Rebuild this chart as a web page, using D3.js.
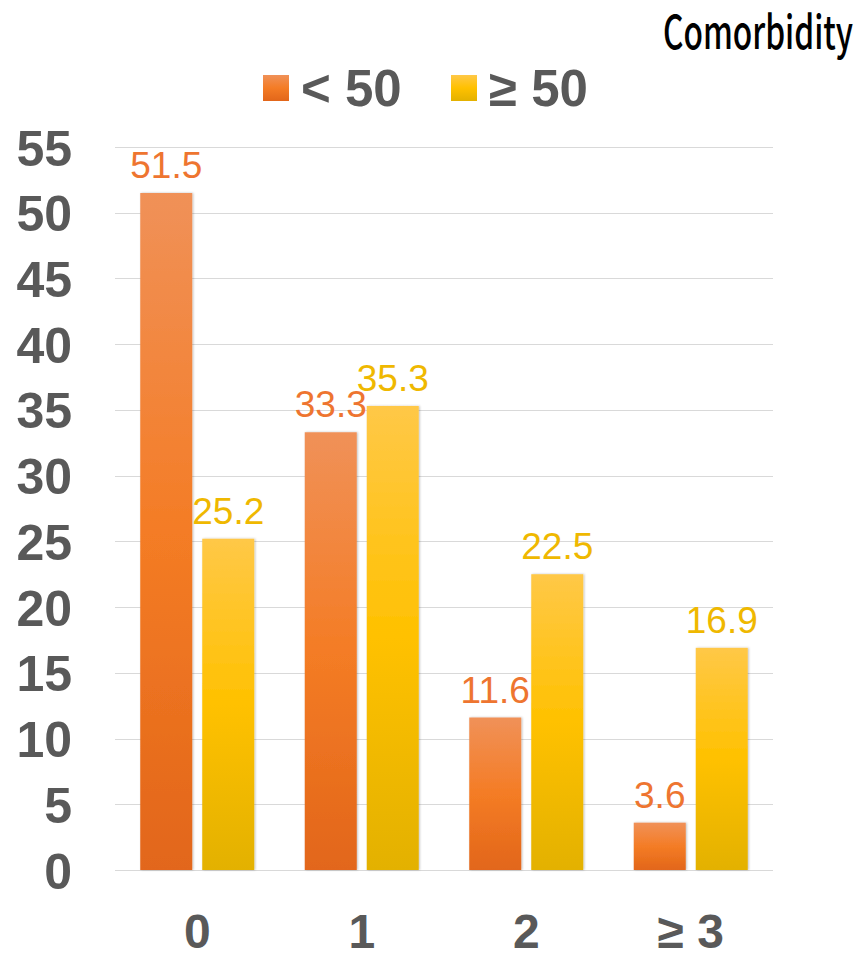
<!DOCTYPE html>
<html>
<head>
<meta charset="utf-8">
<script src="https://cdn.jsdelivr.net/npm/d3@7"></script>
<style>
  body { margin: 0; background: #fff; }
  svg { display: block; }
</style>
</head>
<body>
<div id="chart"></div>
<script>
// Comorbidity count by age group (%)
const categories = ["0", "1", "2", "≥ 3"];
const seriesNames = ["< 50", "≥ 50"];
const under50 = [51.5, 33.3, 11.6, 3.6];
const over50 = [25.2, 35.3, 22.5, 16.9];
const yTicks = [0, 5, 10, 15, 20, 25, 30, 35, 40, 45, 50, 55];

const W = 859, H = 953;
const margin = { left: 115, right: 86, top: 147, bottom: 83 };
const FONT = "Liberation Sans, Arial, sans-serif";

const svg = d3.select("#chart").append("svg").attr("width", W).attr("height", H);
const defs = svg.append("defs");

function grad(id, stops) {
  const g = defs.append("linearGradient").attr("id", id)
    .attr("x1", 0).attr("y1", 0).attr("x2", 0).attr("y2", 1);
  stops.forEach(([o, c]) => g.append("stop").attr("offset", o).attr("stop-color", c));
}
grad("gOrange", [[0, "#F09158"], [0.5, "#F47C25"], [1, "#E2661A"]]);
grad("gYellow", [[0, "#FFC847"], [0.5, "#FFC100"], [1, "#E3B100"]]);

const shadow = defs.append("filter").attr("id", "shadow")
  .attr("x", "-20%").attr("y", "-5%").attr("width", "140%").attr("height", "110%");
shadow.append("feDropShadow").attr("dx", 1).attr("dy", 0).attr("stdDeviation", 1.2)
  .attr("flood-color", "#000").attr("flood-opacity", 0.25);

const x = d3.scaleBand().domain(categories).range([margin.left, W - margin.right]).padding(0);
const y = d3.scaleLinear().domain([0, 55]).range([H - margin.bottom, margin.top]);

const barW = 52, gap = 10;
const colors = ["url(#gOrange)", "url(#gYellow)"];
const labelColors = ["#EE7530", "#EFB800"];

// gridlines
svg.append("g").selectAll("line").data(yTicks).join("line")
  .attr("x1", margin.left).attr("x2", W - margin.right)
  .attr("y1", d => Math.round(y(d)) + 0.5).attr("y2", d => Math.round(y(d)) + 0.5)
  .attr("stroke", "#D9D9D9").attr("stroke-width", 1);

// y axis labels
const yAxis = d3.axisLeft(y).tickValues(yTicks).tickSize(0).tickPadding(0);
const yg = svg.append("g").attr("transform", `translate(72,0)`).call(yAxis);
yg.select(".domain").remove();
yg.selectAll("text")
  .attr("font-family", FONT)
  .attr("font-weight", "bold").attr("font-size", 50).attr("fill", "#595959")
  .attr("dy", "0.36em");

// x axis labels
const xAxis = d3.axisBottom(x).tickSize(0).tickPadding(0);
const xg = svg.append("g").attr("transform", `translate(0,${H - margin.bottom})`).call(xAxis);
xg.select(".domain").remove();
xg.selectAll("text")
  .attr("font-family", FONT)
  .attr("font-weight", "bold").attr("font-size", 48).attr("fill", "#595959")
  .attr("y", 78).attr("dy", 0);

// bars with value labels
const series = [under50, over50];
series.forEach((vals, si) => {
  const offset = si === 0 ? -(barW + gap / 2) : gap / 2;
  const g = svg.append("g");
  g.selectAll("rect").data(vals).join("rect")
    .attr("x", (d, i) => x(categories[i]) + x.bandwidth() / 2 + offset)
    .attr("y", d => y(d))
    .attr("width", barW)
    .attr("height", d => y(0) - y(d))
    .attr("fill", colors[si])
    .attr("filter", "url(#shadow)");
  g.selectAll("text").data(vals).join("text")
    .attr("x", (d, i) => x(categories[i]) + x.bandwidth() / 2 + offset + barW / 2)
    .attr("y", d => y(d) - 15)
    .attr("text-anchor", "middle")
    .attr("font-family", FONT)
    .attr("font-size", 37).attr("fill", labelColors[si])
    .text(d => d.toFixed(1));
});

// legend
const legendX = [263, 451];
const lg = svg.append("g");
seriesNames.forEach((name, i) => {
  lg.append("rect").attr("x", legendX[i]).attr("y", 75).attr("width", 26).attr("height", 26)
    .attr("fill", colors[i]);
  lg.append("text").attr("x", legendX[i] + 38).attr("y", 106)
    .attr("font-family", FONT)
    .attr("font-weight", "bold").attr("font-size", 51).attr("fill", "#595959")
    .text(name);
});

// title
svg.append("text").attr("x", 663).attr("y", 49)
  .attr("font-family", "Noto Sans CJK KR, DejaVu Sans Condensed, sans-serif")
  .attr("font-weight", 500)
  .attr("font-size", 46).attr("fill", "#000")
  .attr("textLength", 190).attr("lengthAdjust", "spacingAndGlyphs")
  .text("Comorbidity");
</script>
</body>
</html>
